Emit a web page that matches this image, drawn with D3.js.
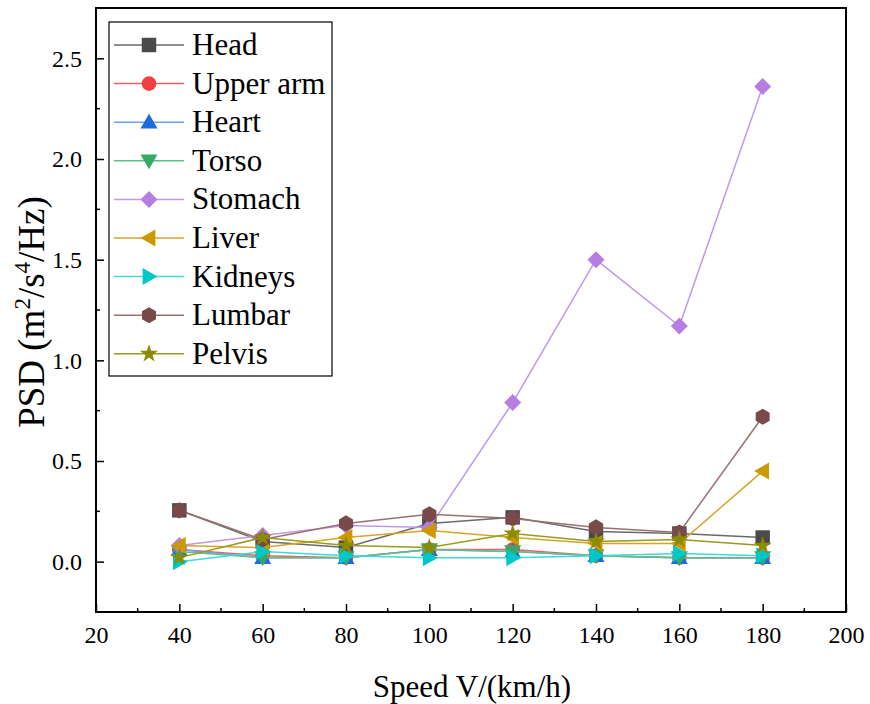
<!DOCTYPE html>
<html><head><meta charset="utf-8">
<script src="https://cdn.jsdelivr.net/npm/d3@7"></script>
<style>body{margin:0;background:#fff}svg{display:block}</style>
</head><body>
<script>
const speeds = [40, 60, 80, 100, 120, 140, 160, 180];
const seriesNames = ["Head","Upper arm","Heart","Torso","Stomach","Liver","Kidneys","Lumbar","Pelvis"];
const head     = [0.255, 0.10, 0.07, 0.19, 0.22, 0.15, 0.14, 0.12];
const upperArm = [0.06, 0.03, 0.02, 0.06, 0.06, 0.03, 0.02, 0.02];
const heart    = [0.06, 0.02, 0.02, 0.06, 0.05, 0.03, 0.02, 0.02];
const torso    = [0.05, 0.02, 0.02, 0.06, 0.05, 0.03, 0.02, 0.02];
const stomach  = [0.08, 0.13, 0.18, 0.17, 0.79, 1.50, 1.17, 2.36];
const liver    = [0.08, 0.07, 0.12, 0.155, 0.12, 0.09, 0.09, 0.45];
const kidneys  = [0.00, 0.05, 0.03, 0.02, 0.02, 0.03, 0.04, 0.03];
const lumbar   = [0.255, 0.11, 0.19, 0.235, 0.215, 0.17, 0.145, 0.72];
const pelvis   = [0.02, 0.12, 0.08, 0.07, 0.14, 0.10, 0.11, 0.08];
const xTicks = [20,40,60,80,100,120,140,160,180,200];
const yTicks = [0.0,0.5,1.0,1.5,2.0,2.5];

const allValues = [head,upperArm,heart,torso,stomach,liver,kidneys,lumbar,pelvis];
const colors = ["#4a4a4a","#f04040","#1e6be0","#36a868","#b57ee0","#cc9900","#00c8c8","#7a4a4a","#8b8b00"];
const lineColors = ["#6a6a6a","#f06060","#6fa0e8","#5cc08a","#c099e8","#d4a52a","#40d8d8","#9a7070","#9a9a20"];
const symbolTypes = ["square","circle","triUp","triDown","diamond","triLeft","triRight","hexagon","star"];
const FONT = "Liberation Serif";

const W=870,H=704;
const m={l:96,r:846,t:8,b:612};
const x=d3.scaleLinear().domain([20,200]).range([m.l,m.r]);
const y=d3.scaleLinear().domain([-0.25,2.75]).range([m.b,m.t]);

const svg=d3.select("body").append("svg").attr("width",W).attr("height",H).attr("font-family",FONT);

function symPath(type, s){
  const r=s/2;
  switch(type){
    case "square": return `M${-r*0.85},${-r*0.85}h${1.7*r}v${1.7*r}h${-1.7*r}Z`;
    case "circle": return d3.symbol(d3.symbolCircle, Math.PI*r*r*0.75)();
    case "triUp": return `M0,${-r}L${r},${r*0.75}L${-r},${r*0.75}Z`;
    case "triDown": return `M0,${r}L${r},${-r*0.75}L${-r},${-r*0.75}Z`;
    case "triLeft": return `M${-r},0L${r*0.75},${-r}L${r*0.75},${r}Z`;
    case "triRight": return `M${r},0L${-r*0.75},${-r}L${-r*0.75},${r}Z`;
    case "diamond": return `M0,${-r}L${r},0L0,${r}L${-r},0Z`;
    case "hexagon": {
      let p=[];for(let i=0;i<6;i++){const a=Math.PI/6+i*Math.PI/3;p.push([r*0.95*Math.cos(a),r*0.95*Math.sin(a)]);}
      return "M"+p.map(q=>q.join(",")).join("L")+"Z";}
    case "star": return d3.symbol(d3.symbolStar, r*r*1.4)();
  }
}

// series
const line=d3.line().x((d,i)=>x(speeds[i])).y(d=>y(d));
allValues.forEach((vals,k)=>{
  const g=svg.append("g");
  g.append("path").attr("d",line(vals)).attr("fill","none").attr("stroke",lineColors[k]).attr("stroke-width",1.5);
  g.selectAll("path.sym").data(vals).enter().append("path").attr("class","sym")
    .attr("d",symPath(symbolTypes[k],17))
    .attr("transform",(d,i)=>`translate(${x(speeds[i])},${y(d)})`)
    .attr("fill",colors[k]);
});

// axes frame
svg.append("rect").attr("x",m.l).attr("y",m.t).attr("width",m.r-m.l).attr("height",m.b-m.t)
  .attr("fill","none").attr("stroke","#000").attr("stroke-width",2);

const xa=d3.axisBottom(x).tickValues(xTicks).tickSize(-8).tickPadding(14).tickFormat(d3.format("d"));
const gx=svg.append("g").attr("transform",`translate(0,${m.b})`).call(xa);
gx.attr("font-family",FONT).attr("font-size",24);
gx.select(".domain").remove();
gx.selectAll("line").attr("stroke","#000").attr("stroke-width",1.5);
gx.selectAll("text").attr("fill","#000").attr("font-family",FONT).attr("font-size",24);
const xm=d3.range(30,200,20);
svg.append("g").selectAll("line").data(xm).enter().append("line")
  .attr("x1",d=>x(d)).attr("x2",d=>x(d)).attr("y1",m.b).attr("y2",m.b-4).attr("stroke","#000").attr("stroke-width",1.5);

const ya=d3.axisLeft(y).tickValues(yTicks).tickSize(-8).tickPadding(14).tickFormat(d3.format(".1f"));
const gy=svg.append("g").attr("transform",`translate(${m.l},0)`).call(ya);
gy.attr("font-family",FONT).attr("font-size",24);
gy.select(".domain").remove();
gy.selectAll("line").attr("stroke","#000").attr("stroke-width",1.5);
gy.selectAll("text").attr("fill","#000").attr("font-family",FONT).attr("font-size",24);
const ym=[-0.25,0.25,0.75,1.25,1.75,2.25,2.75];
svg.append("g").selectAll("line").data(ym).enter().append("line")
  .attr("x1",m.l).attr("x2",m.l+4).attr("y1",d=>y(d)).attr("y2",d=>y(d)).attr("stroke","#000").attr("stroke-width",1.5);

// axis titles
svg.append("text").attr("x",472).attr("y",697).attr("text-anchor","middle").attr("font-size",31).attr("font-family",FONT).text("Speed V/(km/h)");
const yt=svg.append("text").attr("transform",`translate(44,312) rotate(-90)`).attr("text-anchor","middle").attr("font-size",37).attr("font-family",FONT);
yt.append("tspan").text("PSD (m");
yt.append("tspan").attr("font-size",23).attr("dy",-14).text("2");
yt.append("tspan").attr("dy",14).text("/s");
yt.append("tspan").attr("font-size",23).attr("dy",-14).text("4");
yt.append("tspan").attr("dy",14).text("/Hz)");

// legend
const lg=svg.append("g");
lg.append("rect").attr("x",109).attr("y",22).attr("width",223).attr("height",354).attr("fill","#fff").attr("stroke","#000").attr("stroke-width",1.2);
seriesNames.forEach((n,k)=>{
  const yy=45+k*38.6;
  lg.append("line").attr("x1",114).attr("x2",184).attr("y1",yy).attr("y2",yy).attr("stroke",lineColors[k]).attr("stroke-width",1.5);
  lg.append("path").attr("d",symPath(symbolTypes[k],17)).attr("transform",`translate(149,${yy})`).attr("fill",colors[k]);
  lg.append("text").attr("x",192).attr("y",yy+10).attr("font-size",31).attr("font-family",FONT).text(n);
});
</script>
</body></html>
